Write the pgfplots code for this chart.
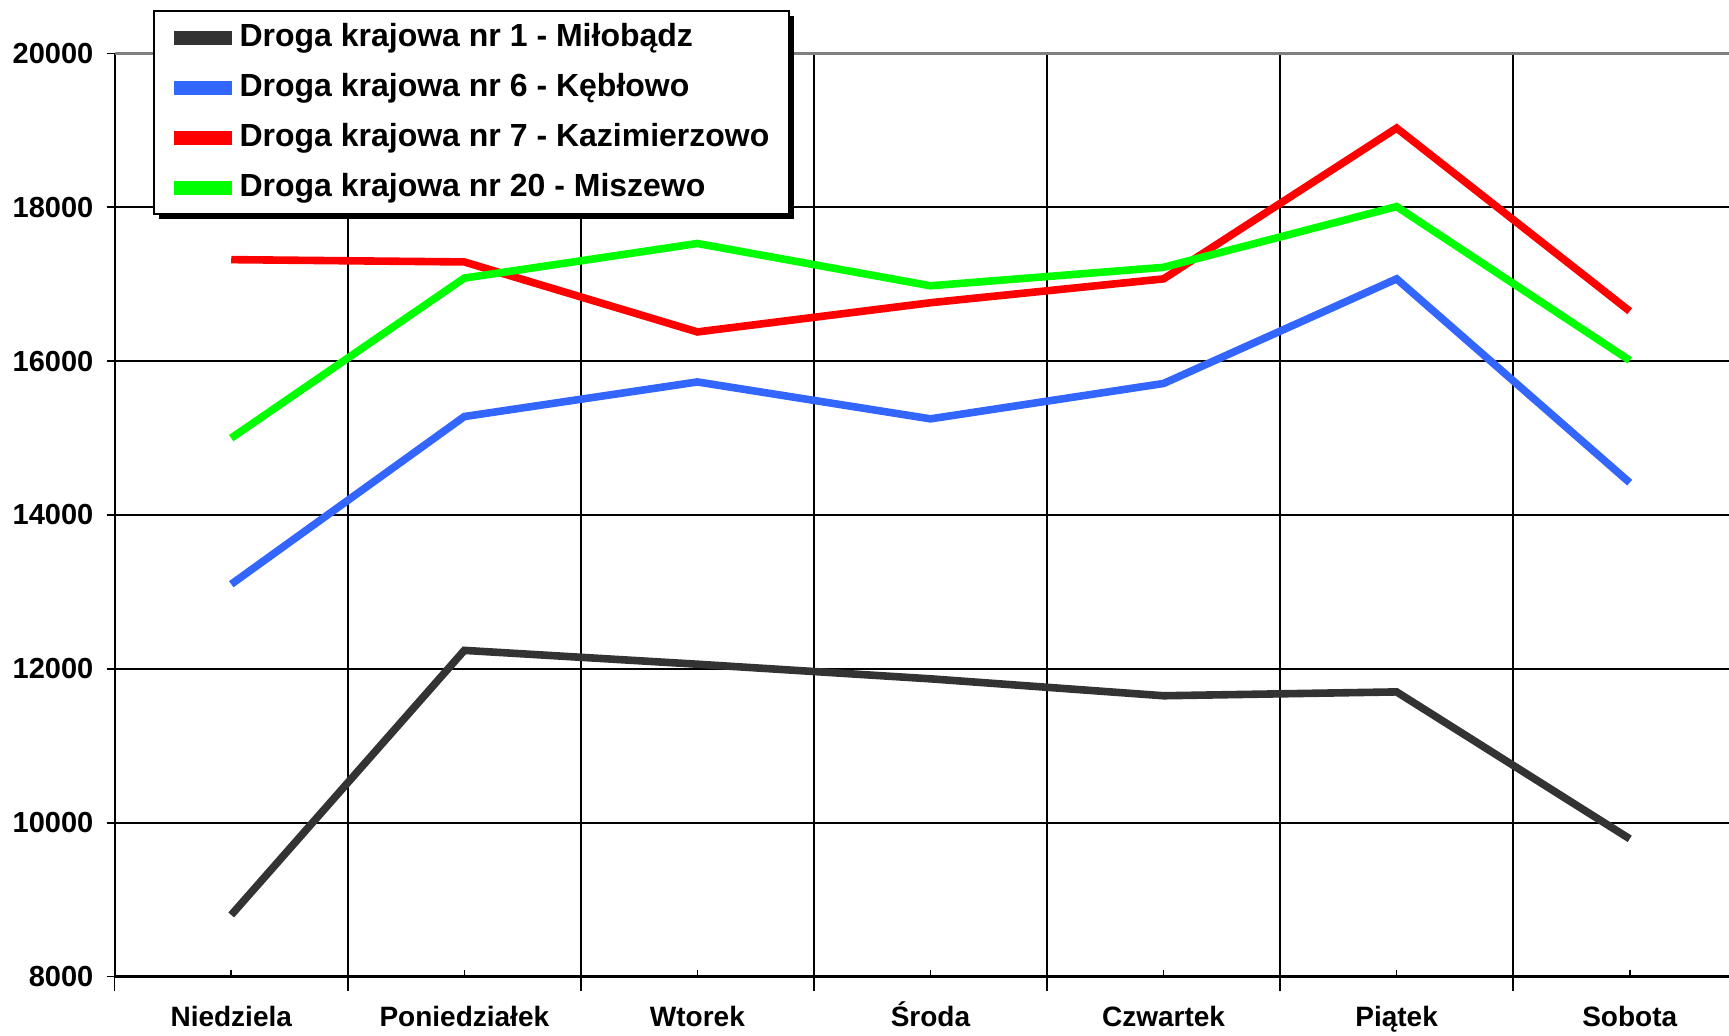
\documentclass[border=0pt]{standalone}
\usepackage{pgfplots}
\pgfplotsset{compat=1.18}
\usepackage{fontspec}
\setmainfont{Liberation Sans}
\usetikzlibrary{shadows}
\makeatletter
\tikzset{no preactions/.code={\let\tikz@preactions\pgfutil@empty}}
\makeatother
\definecolor{cBlack}{HTML}{333333}
\definecolor{cBlue}{HTML}{3366FF}
\definecolor{cRed}{HTML}{FF0000}
\definecolor{cGreen}{HTML}{00FF00}
\begin{document}
\begin{tikzpicture}
\useasboundingbox (0,0) rectangle (864.5pt,517.5pt);
\begin{axis}[
  at={(57.35pt,29.25pt)}, anchor=south west,
  width=807.15pt, height=461.5pt, scale only axis,
  xmin=-0.5, xmax=6.426, ymin=8000, ymax=20000,
  scaled y ticks=false,
  axis x line*=bottom, axis y line*=left,
  x axis line style={line width=1.4pt},
  y axis line style={line width=1pt},
  xtick={0,...,6},
  xticklabels={Niedziela, Poniedziałek, Wtorek, Środa, Czwartek, Piątek, Sobota},
  ytick={8000,10000,...,18000},
  extra y ticks={20000},
  extra y tick style={grid=major, major grid style={color=gray, line width=1.5pt}},
  extra x ticks={-0.5,0.5,1.5,2.5,3.5,4.5,5.5},
  extra x tick labels={},
  extra x tick style={grid=major, major grid style={black, line width=0.9pt}, major tick length=7pt, tick style={yshift=-7pt, line width=0.9pt}},
  tick align=inside,
  major tick length=3.5pt,
  xtick style={black, line width=0.8pt},
  ytick style={black, line width=0.9pt, xshift=-4pt},
  ymajorgrids,
  major grid style={black, line width=0.9pt},
  /pgf/number format/assume math mode=true,
  /pgf/number format/set thousands separator={},
  yticklabel style={font=\fontsize{14.5}{16}\selectfont\bfseries, anchor=east, inner sep=0pt, xshift=-10.5pt},
  xticklabel style={font=\fontsize{14}{16}\selectfont\bfseries, anchor=north, text height=10pt, text depth=3pt, yshift=-11.3pt},
  legend style={at={(0.0237,1.0466)}, anchor=north west,
    draw=black, line width=1pt, fill=white,
    drop shadow={shadow xshift=2.5pt, shadow yshift=-2.5pt, fill=black, opacity=1},
    font=\fontsize{16}{19}\selectfont\bfseries,
    inner xsep=10pt, inner ysep=5.5pt, row sep=9.5pt,
    nodes={inner sep=0pt, text height=12pt, text depth=3.5pt},
    cells={anchor=west}},
  legend image code/.code={\fill[no preactions, #1] (0pt,-1.7pt) rectangle (25pt,1.7pt);},
  legend cell align=left,
  every axis plot/.append style={line width=3.8pt, line join=miter, line cap=butt},
]
\addplot[cBlack] coordinates {(0,8800) (1,12240) (2,12060) (3,11870) (4,11650) (5,11700) (6,9790)};
\addlegendentry{\hspace{4pt}Droga krajowa nr 1 - Miłobądz}
\addplot[cBlue] coordinates {(0,13100) (1,15280) (2,15730) (3,15250) (4,15710) (5,17070) (6,14420)};
\addlegendentry{\hspace{4pt}Droga krajowa nr 6 - Kębłowo}
\addplot[cRed] coordinates {(0,17320) (1,17290) (2,16380) (3,16760) (4,17070) (5,19030) (6,16650)};
\addlegendentry{\hspace{4pt}Droga krajowa nr 7 - Kazimierzowo}
\addplot[cGreen] coordinates {(0,15000) (1,17080) (2,17530) (3,16980) (4,17220) (5,18010) (6,16010)};
\addlegendentry{\hspace{4pt}Droga krajowa nr 20 - Miszewo}
\end{axis}
\end{tikzpicture}
\end{document}
